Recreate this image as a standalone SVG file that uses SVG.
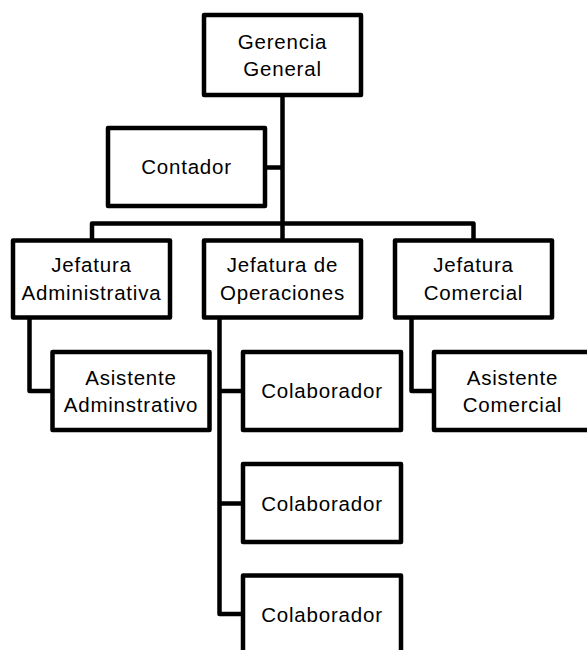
<svg xmlns="http://www.w3.org/2000/svg" width="587" height="650" viewBox="0 0 587 650">
  <style>
    .box { fill: #ffffff; stroke: #000000; stroke-width: 4.5; stroke-linejoin: round; }
    .link { fill: none; stroke: #000000; stroke-width: 4.5; stroke-linejoin: round; }
    .label { font-family: "Liberation Sans", Arial, sans-serif; font-size: 20.5px; fill: #000000; text-anchor: middle; letter-spacing: 0.8px; }
  </style>
  <rect width="587" height="650" fill="#ffffff"/>

  <!-- connectors -->
  <g id="connectors">
    <!-- main trunk from Gerencia General down to the bus -->
    <path class="link" d="M282.5,95 V223.5"/>
    <!-- Contador branch -->
    <path class="link" d="M265,167.5 H282.5"/>
    <!-- bus feeding the three Jefaturas -->
    <path class="link" d="M92,240.5 V223.5 H473.5 V240.5"/>
    <path class="link" d="M282.5,223.5 V240.5"/>
    <!-- Jefatura Administrativa to Asistente -->
    <path class="link" d="M29.5,317.5 V391 H52.5"/>
    <!-- Jefatura de Operaciones to Colaboradores -->
    <path class="link" d="M219.5,317.5 V614 H243"/>
    <path class="link" d="M219.5,391 H243"/>
    <path class="link" d="M219.5,503.5 H243"/>
    <!-- Jefatura Comercial to Asistente -->
    <path class="link" d="M411.5,317.5 V391 H434"/>
  </g>

  <g id="gerencia-general">
    <rect class="box" x="204" y="15" width="157" height="80"/>
    <text class="label" x="282.5" y="49">Gerencia</text>
    <text class="label" x="282.5" y="76">General</text>
  </g>

  <g id="contador">
    <rect class="box" x="108" y="128" width="157" height="78"/>
    <text class="label" x="186.5" y="174">Contador</text>
  </g>

  <g id="jefatura-administrativa">
    <rect class="box" x="13" y="240.5" width="157" height="77"/>
    <text class="label" x="91.5" y="272">Jefatura</text>
    <text class="label" x="91.5" y="299.5">Administrativa</text>
  </g>

  <g id="jefatura-operaciones">
    <rect class="box" x="204" y="240.5" width="157" height="77"/>
    <text class="label" x="282.5" y="272">Jefatura de</text>
    <text class="label" x="282.5" y="299.5">Operaciones</text>
  </g>

  <g id="jefatura-comercial">
    <rect class="box" x="395" y="240.5" width="157" height="77"/>
    <text class="label" x="473.5" y="272">Jefatura</text>
    <text class="label" x="473.5" y="299.5">Comercial</text>
  </g>

  <g id="asistente-administrativo">
    <rect class="box" x="52.5" y="352" width="157" height="78"/>
    <text class="label" x="131" y="385">Asistente</text>
    <text class="label" x="131" y="411.5">Adminstrativo</text>
  </g>

  <g id="colaborador-1">
    <rect class="box" x="243" y="352" width="158" height="78"/>
    <text class="label" x="322" y="398">Colaborador</text>
  </g>

  <g id="colaborador-2">
    <rect class="box" x="243" y="464" width="158" height="78"/>
    <text class="label" x="322" y="510.5">Colaborador</text>
  </g>

  <g id="colaborador-3">
    <rect class="box" x="243" y="575.5" width="158" height="78"/>
    <text class="label" x="322" y="622">Colaborador</text>
  </g>

  <g id="asistente-comercial">
    <rect class="box" x="434" y="352" width="157" height="78"/>
    <text class="label" x="512.5" y="385">Asistente</text>
    <text class="label" x="512.5" y="411.5">Comercial</text>
  </g>
</svg>
